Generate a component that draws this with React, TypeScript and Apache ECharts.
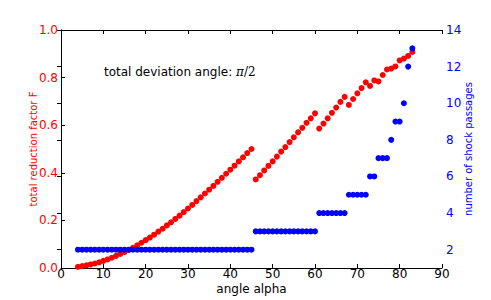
import React, { useEffect, useRef } from "react";
import * as echarts from "echarts";

const alpha = [
  4, 5, 6, 7, 8, 9, 10, 11, 12, 13, 14, 15, 16, 17, 18, 19, 20, 21, 22, 23,
  24, 25, 26, 27, 28, 29, 30, 31, 32, 33, 34, 35, 36, 37, 38, 39, 40, 41, 42, 43,
  44, 45, 46, 47, 48, 49, 50, 51, 52, 53, 54, 55, 56, 57, 58, 59, 60, 61, 62, 63,
  64, 65, 66, 67, 68, 69, 70, 71, 72, 73, 74, 75, 76, 77, 78, 79, 80, 81, 82, 83,
];

const reductionF = [
  0.005, 0.008, 0.011, 0.015, 0.019, 0.024, 0.03, 0.036, 0.043, 0.051,
  0.059, 0.067, 0.076, 0.085, 0.095, 0.106, 0.117, 0.128, 0.14, 0.153,
  0.165, 0.179, 0.192, 0.206, 0.22, 0.235, 0.25, 0.265, 0.281, 0.297,
  0.313, 0.329, 0.345, 0.362, 0.379, 0.396, 0.413, 0.43, 0.448, 0.465,
  0.483, 0.5,
  0.372, 0.39, 0.41, 0.429, 0.448, 0.468, 0.489, 0.508, 0.529, 0.549,
  0.57, 0.589, 0.61, 0.629, 0.65,
  0.586, 0.607, 0.629, 0.652, 0.674, 0.698, 0.719,
  0.685, 0.71, 0.734, 0.756, 0.78,
  0.765, 0.788, 0.784, 0.811, 0.834, 0.838, 0.847, 0.872, 0.88, 0.891, 0.908,
];

const shockPassages = [
  2, 2, 2, 2, 2, 2, 2, 2, 2, 2, 2, 2, 2, 2, 2, 2, 2, 2, 2, 2,
  2, 2, 2, 2, 2, 2, 2, 2, 2, 2, 2, 2, 2, 2, 2, 2, 2, 2, 2, 2,
  2, 2,
  3, 3, 3, 3, 3, 3, 3, 3, 3, 3, 3, 3, 3, 3, 3,
  4, 4, 4, 4, 4, 4, 4,
  5, 5, 5, 5, 5,
  6, 6,
  7, 7, 7,
  8,
  9, 9,
  10,
  12,
  13,
];

const rightTicks = [2, 4, 6, 8, 10, 12, 14];

const FONT = "DejaVu Sans";

export default function App() {
  const ref = useRef<HTMLDivElement>(null);

  useEffect(() => {
    if (!ref.current) return;
    const chart = echarts.init(ref.current, null, { renderer: "svg" });
    const redData = alpha.map((a, i) => [a, reductionF[i]]);
    const blueData = alpha.map((a, i) => [a, shockPassages[i]]);
    const tick = { show: true, inside: true, length: 4, lineStyle: { color: "#000", width: 1 } };
    const line = { show: true, lineStyle: { color: "#000", width: 1 } };

    chart.setOption({
      animation: false,
      backgroundColor: "#fff",
      grid: { left: 61, right: 49, top: 30, bottom: 31, containLabel: false },
      xAxis: [
        {
          type: "value",
          position: "bottom",
          min: 0,
          max: 90,
          interval: 10,
          axisLine: line,
          axisTick: tick,
          splitLine: { show: false },
          axisLabel: { color: "#000", fontSize: 12, lineHeight: 12, fontFamily: FONT, margin: 0 },
          name: "angle alpha",
          nameLocation: "middle",
          nameGap: 15,
          nameMoveOverlap: false,
          nameTextStyle: { color: "#000", fontSize: 12, lineHeight: 12, fontFamily: FONT },
        },
        {
          type: "value",
          position: "top",
          min: 0,
          max: 90,
          interval: 10,
          axisLine: line,
          axisTick: tick,
          splitLine: { show: false },
          axisLabel: { show: false },
        },
      ],
      yAxis: [
        {
          type: "value",
          position: "left",
          min: 0,
          max: 1,
          interval: 0.2,
          axisLine: line,
          axisTick: tick,
          splitLine: { show: false },
          axisLabel: {
            color: "#ff0000",
            fontSize: 12,
            fontFamily: FONT,
            margin: 3,
            formatter: (v: number) => v.toFixed(1),
          },
          name: "total reduction factor F",
          nameLocation: "middle",
          nameGap: 23,
          nameMoveOverlap: false,
          nameRotate: 90,
          nameTextStyle: { color: "#ff0000", fontSize: 10, fontFamily: FONT },
        },
        {
          type: "value",
          position: "right",
          min: 1,
          max: 14,
          interval: 1,
          axisLine: line,
          axisTick: { ...tick, customValues: rightTicks },
          splitLine: { show: false },
          axisLabel: {
            color: "#0000ff",
            fontSize: 12,
            fontFamily: FONT,
            margin: 4,
            customValues: rightTicks,
          },
          name: "number of shock passages",
          nameLocation: "middle",
          nameGap: 21,
          nameMoveOverlap: false,
          nameRotate: 90,
          nameTextStyle: { color: "#0000ff", fontSize: 10, fontFamily: FONT },
        },
      ],
      graphic: [
        {
          type: "text",
          left: 104,
          top: 66,
          style: {
            text: "{a|total deviation angle: }{b|π}{c|/2}",
            rich: {
              a: { fontFamily: FONT, fontSize: 12, fill: "#000" },
              b: { fontFamily: "DejaVu Serif", fontStyle: "italic", fontSize: 12, fill: "#000" },
              c: { fontFamily: "DejaVu Serif", fontSize: 12, fill: "#000" },
            },
          },
        },
      ],
      series: [
        {
          type: "scatter",
          xAxisIndex: 0,
          yAxisIndex: 0,
          data: redData,
          symbol: "circle",
          symbolSize: 6,
          itemStyle: { color: "#ff0000", opacity: 1 },
        },
        {
          type: "scatter",
          xAxisIndex: 0,
          yAxisIndex: 1,
          data: blueData,
          symbol: "circle",
          symbolSize: 6,
          itemStyle: { color: "#0000ff", opacity: 1 },
        },
      ],
    });
    return () => chart.dispose();
  }, []);

  return (
    <div
      ref={ref}
      style={{ position: "absolute", left: 0, top: 0, width: 491, height: 300 }}
    />
  );
}
